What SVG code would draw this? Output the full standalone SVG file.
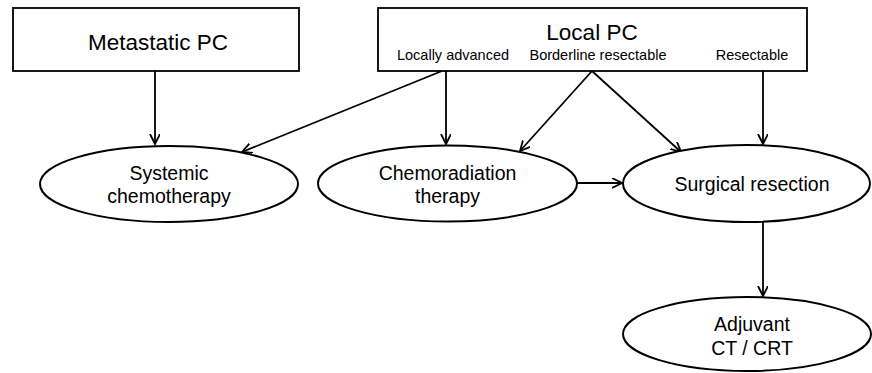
<svg xmlns="http://www.w3.org/2000/svg" width="872" height="373" viewBox="0 0 872 373">
<defs>
<marker id="arr" markerUnits="userSpaceOnUse" markerWidth="12" markerHeight="12" refX="10" refY="5" orient="auto">
<path d="M0,0 L10,5 L0,10" fill="none" stroke="#000" stroke-width="1.8"/>
</marker>
<style>
.box{fill:#fff;stroke:#000;stroke-width:1.8}
.ell{fill:#fff;stroke:#000;stroke-width:2}
.t{font-family:"Liberation Sans",Arial,sans-serif;fill:#000;text-anchor:middle}
.big{font-size:22.5px}
.mid{font-size:19.5px}
.sm{font-size:14.5px}
.c{fill:none;stroke:#000;stroke-width:1.8;marker-end:url(#arr)}
</style>
</defs>
<rect width="872" height="373" fill="#fff"/>
<g id="connectors">
<line class="c" x1="155" y1="71" x2="155" y2="144"/>
<line class="c" x1="442" y1="71" x2="242" y2="152"/>
<line class="c" x1="446" y1="71" x2="446" y2="144"/>
<line class="c" x1="592" y1="71" x2="520" y2="151"/>
<line class="c" x1="592" y1="71" x2="681" y2="152"/>
<line class="c" x1="763" y1="71" x2="763" y2="144"/>
<line class="c" x1="577" y1="183" x2="622" y2="183"/>
<line class="c" x1="763" y1="222" x2="763" y2="296"/>
</g>
<g id="metastatic">
<rect class="box" x="13" y="8" width="286" height="63"/>
<text class="t big" x="158" y="50">Metastatic PC</text>
</g>
<g id="local">
<rect class="box" x="378" y="8" width="429" height="63"/>
<text class="t big" x="592" y="40">Local PC</text>
<text class="t sm" x="453" y="60">Locally advanced</text>
<text class="t sm" x="598" y="60">Borderline resectable</text>
<text class="t sm" x="752" y="60">Resectable</text>
</g>
<g id="systemic">
<ellipse class="ell" cx="169" cy="184" rx="129" ry="38"/>
<text class="t mid" x="169" y="180">Systemic</text>
<text class="t mid" x="169" y="203">chemotherapy</text>
</g>
<g id="chemoradiation">
<ellipse class="ell" cx="447.5" cy="183.5" rx="129.5" ry="38"/>
<text class="t mid" x="447.5" y="180">Chemoradiation</text>
<text class="t mid" x="447.5" y="203">therapy</text>
</g>
<g id="surgical">
<ellipse class="ell" cx="746.5" cy="183.5" rx="123.5" ry="38.5"/>
<text class="t mid" x="752" y="191">Surgical resection</text>
</g>
<g id="adjuvant">
<ellipse class="ell" cx="747" cy="334" rx="124" ry="37"/>
<text class="t mid" x="752" y="331">Adjuvant</text>
<text class="t mid" x="752" y="355">CT / CRT</text>
</g>
</svg>
